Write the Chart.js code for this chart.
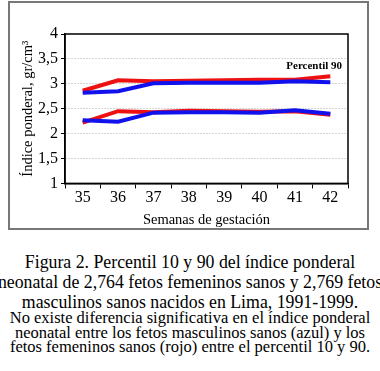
<!DOCTYPE html>
<html>
<head>
<meta charset="utf-8">
<script src="https://cdn.jsdelivr.net/npm/chart.js@4"></script>
<style>
  html, body { margin: 0; padding: 0; background: #fff; }
  #page { position: relative; width: 380px; height: 371px; overflow: hidden; background: #fff; }
  #box { position: absolute; left: 8px; top: 1px; width: 357px; height: 225px; border: 2px solid #777; }
  #wrap { position: absolute; left: 0; top: 0; width: 357px; height: 226px; }
  #caption { position: absolute; left: -20px; top: 252px; width: 420px; text-align: center;
             font-family: 'Liberation Serif', serif; color: #000; white-space: nowrap; }
  #caption .a { font-size: 17.8px; line-height: 20px; }
  #caption .b { font-size: 16.5px; line-height: 14.5px; margin-top: -1px; }
</style>
</head>
<body>
<div id="page">
  <div id="box"><div id="wrap"><canvas id="chart"></canvas></div></div>
  <div id="caption">
    <div class="a">Figura 2. Percentil 10 y 90 del índice ponderal<br>neonatal de 2,764 fetos femeninos sanos y 2,769 fetos<br>masculinos sanos nacidos en Lima, 1991-1999.</div>
    <div class="b">No existe diferencia significativa en el índice ponderal<br>neonatal entre los fetos masculinos sanos (azul) y los<br>fetos femeninos sanos (rojo) entre el percentil 10 y 90.</div>
  </div>
</div>
<script>
// Semanas de gestación
const weeks = ['35', '36', '37', '38', '39', '40', '41', '42'];

// Percentil 90
const femP90 = [2.86, 3.07, 3.05, 3.06, 3.07, 3.08, 3.08, 3.15];
const masP90 = [2.82, 2.85, 3.01, 3.02, 3.02, 3.02, 3.05, 3.03];

// Percentil 10
const femP10 = [2.22, 2.45, 2.43, 2.46, 2.45, 2.44, 2.45, 2.38];
const masP10 = [2.27, 2.24, 2.42, 2.43, 2.43, 2.42, 2.47, 2.40];

const RED = '#ee1111';
const BLUE = '#1111ee';
const serif = "'Liberation Serif', 'Times New Roman', serif";

function line(data, color, order) {
    return {
        data: data,
        borderColor: color,
        borderWidth: 4,
        pointRadius: 0,
        tension: 0,
        fill: false,
        order: order
    };
}

// frame around plot area + "Percentil 90" note
const framePlugin = {
    id: 'frame',
    afterDatasetsDraw(chart) {
        const ctx = chart.ctx;
        const a = chart.chartArea;
        ctx.save();
        ctx.strokeStyle = '#000';
        ctx.lineWidth = 1.5;
        ctx.strokeRect(a.left, a.top, a.right - a.left, a.bottom - a.top);
        ctx.fillStyle = '#000';
        ctx.font = 'bold 11px ' + serif;
        ctx.textAlign = 'right';
        ctx.textBaseline = 'middle';
        ctx.fillText('Percentil 90', a.right - 6, chart.scales.y.getPixelForValue(3.35));
        ctx.restore();
    }
};

new Chart(document.getElementById('chart'), {
    type: 'line',
    data: {
        labels: weeks,
        datasets: [
            line(femP90, RED, 2),
            line(masP90, BLUE, 1),
            line(femP10, RED, 2),
            line(masP10, BLUE, 1)
        ]
    },
    options: {
        responsive: true,
        maintainAspectRatio: false,
        animation: false,
        layout: { padding: { top: 31, right: 19, left: 0, bottom: 0 } },
        plugins: {
            legend: { display: false },
            tooltip: { enabled: false }
        },
        scales: {
            x: {
                offset: true,
                grid: {
                    offset: true,
                    drawOnChartArea: false,
                    drawTicks: true,
                    tickLength: 5,
                    tickColor: '#000'
                },
                border: { display: true, color: '#000', width: 1.5 },
                ticks: {
                    color: '#000',
                    padding: 0,
                    font: { family: serif, size: 16 }
                },
                title: {
                    display: true,
                    text: 'Semanas de gestación',
                    color: '#000',
                    padding: { top: 4, bottom: 0 },
                    font: { family: serif, size: 14.5 }
                }
            },
            y: {
                min: 1,
                max: 4,
                afterFit: function(scale) { scale.width = 55; },
                grid: {
                    color: function(c) {
                        return (c.tick && (c.tick.value === 1 || c.tick.value === 4)) ? 'rgba(0,0,0,0)' : '#aaa';
                    },
                    lineWidth: 1,
                    tickLength: 4,
                    tickColor: '#000'
                },
                border: { display: true, color: '#000', width: 1.5, dash: [1, 2] },
                ticks: {
                    stepSize: 0.5,
                    color: '#000',
                    padding: 3,
                    font: { family: serif, size: 16 },
                    callback: function(v) { return String(v).replace('.', ','); }
                },
                title: {
                    display: true,
                    text: 'Índice ponderal, gr/cm³',
                    color: '#000',
                    padding: { top: 9, bottom: 0 },
                    font: { family: serif, size: 14.5 }
                }
            }
        }
    },
    plugins: [framePlugin]
});
</script>
</body>
</html>
